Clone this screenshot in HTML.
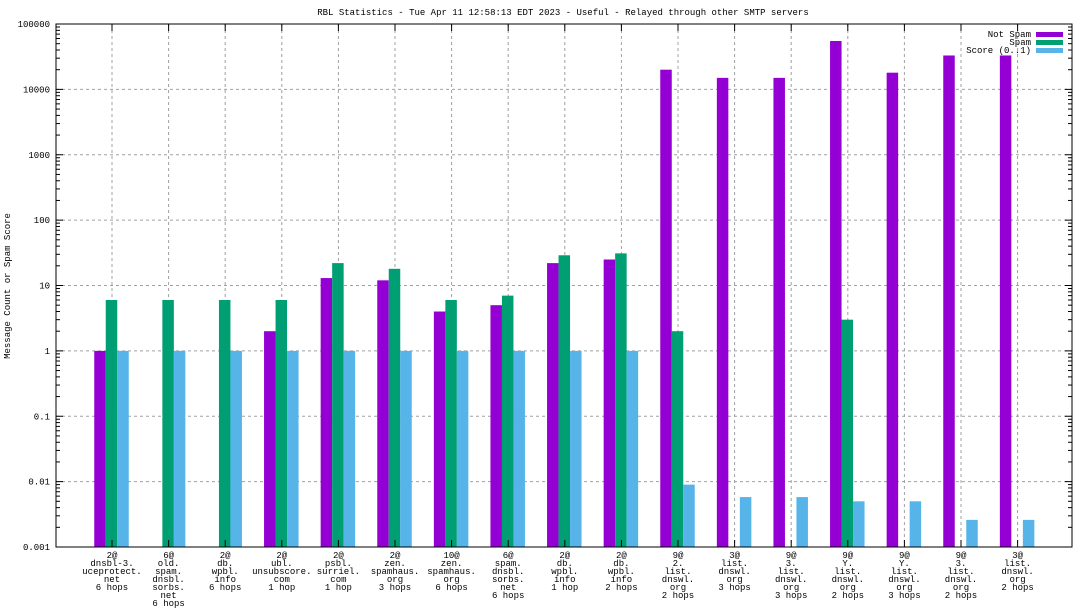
<!DOCTYPE html>
<html><head><meta charset="utf-8"><style>
html,body{margin:0;padding:0;background:#fff}
svg{display:block}
text{font-family:"Liberation Mono","DejaVu Sans Mono",monospace;font-size:9px;fill:#000}
</style></head><body>
<svg id="chart" width="1088" height="612" viewBox="0 0 1088 612" xmlns="http://www.w3.org/2000/svg">
<text x="563" y="15" text-anchor="middle">RBL Statistics - Tue Apr 11 12:58:13 EDT 2023 - Useful - Relayed through other SMTP servers</text>
<text transform="translate(10,286) rotate(-90)" text-anchor="middle">Message Count or Spam Score</text>
<g id="grid"></g><g id="bars"></g><g id="axes"></g><g id="legend"></g>
</svg>
<script>
const categories=[
["2@","dnsbl-3.","uceprotect.","net","6 hops"],
["6@","old.","spam.","dnsbl.","sorbs.","net","6 hops"],
["2@","db.","wpbl.","info","6 hops"],
["2@","ubl.","unsubscore.","com","1 hop"],
["2@","psbl.","surriel.","com","1 hop"],
["2@","zen.","spamhaus.","org","3 hops"],
["10@","zen.","spamhaus.","org","6 hops"],
["6@","spam.","dnsbl.","sorbs.","net","6 hops"],
["2@","db.","wpbl.","info","1 hop"],
["2@","db.","wpbl.","info","2 hops"],
["9@","2.","list.","dnswl.","org","2 hops"],
["3@","list.","dnswl.","org","3 hops"],
["9@","3.","list.","dnswl.","org","3 hops"],
["9@","Y.","list.","dnswl.","org","2 hops"],
["9@","Y.","list.","dnswl.","org","3 hops"],
["9@","3.","list.","dnswl.","org","2 hops"],
["3@","list.","dnswl.","org","2 hops"]];
const notSpam=[1,0,0,2,13,12,4,5,22,25,20000,15000,15000,55000,18000,33000,33000];
const spam=[6,6,6,6,22,18,6,7,29,31,2,0,0,3,0,0,0];
const score=[1,1,1,1,1,1,1,1,1,1,0.009,0.0058,0.0058,0.005,0.005,0.0026,0.0026];
const yTicks=[100000,10000,1000,100,10,1,0.1,0.01,0.001];
const yTickLabels=["100000","10000","1000","100","10","1","0.1","0.01","0.001"];
const seriesNames=["Not Spam","Spam","Score (0..1)"];
const colors=["#9400d3","#009e73","#56b4e9"];

const NS="http://www.w3.org/2000/svg";
const L=56,R=1072,T=24,B=547,yMin=0.001,yMax=100000;
const y=v=>B-(Math.log10(v)-Math.log10(yMin))/(Math.log10(yMax)-Math.log10(yMin))*(B-T);
const step=56.6;
const x=i=>112+i*step;
function mk(tag,attrs,parent){const e=document.createElementNS(NS,tag);for(const k in attrs)e.setAttribute(k,attrs[k]);parent.appendChild(e);return e;}
const grid=document.getElementById('grid'),bars=document.getElementById('bars'),axes=document.getElementById('axes'),leg=document.getElementById('legend');
// grid
yTicks.forEach((t,i)=>{
  const yy=y(t);
  if(i>0&&i<yTicks.length-1){const g=mk('line',{x1:L,x2:R,y1:yy,y2:yy,stroke:'#a0a0a0','stroke-dasharray':'3,3','stroke-width':1},grid);
  
  }
  const tl=mk('text',{x:50,y:yy+3,'text-anchor':'end'},axes);tl.textContent=yTickLabels[i];
  
  
  mk('line',{x1:L,x2:L+7,y1:yy,y2:yy,stroke:'#000'},axes);
  mk('line',{x1:R,x2:R-7,y1:yy,y2:yy,stroke:'#000'},axes);
  if(i<yTicks.length-1){for(let m=2;m<10;m++){const my=y(yTicks[i+1]*m);
    mk('line',{x1:L,x2:L+4,y1:my,y2:my,stroke:'#000'},axes);
    mk('line',{x1:R,x2:R-4,y1:my,y2:my,stroke:'#000'},axes);}}
});
categories.forEach((c,i)=>{
  const xx=x(i);
  const g=mk('line',{x1:xx,x2:xx,y1:T,y2:B,stroke:'#a0a0a0','stroke-dasharray':'3,3'},grid);
  
  
  mk('line',{x1:xx,x2:xx,y1:B,y2:B-7,stroke:'#000'},axes);
  mk('line',{x1:xx,x2:xx,y1:T,y2:T+7,stroke:'#000'},axes);
  const t=mk('text',{x:xx,y:558,'text-anchor':'middle'},axes);
  
  
  c.forEach((ln,k)=>{const ts=mk('tspan',{x:xx,y:558+k*8},t);ts.textContent=ln;});
});
const bw=11.5;
[notSpam,spam,score].forEach((arr,s)=>{
  arr.forEach((v,i)=>{
    if(!(v>0))return;
    const cx=x(i)+(s-1)*bw-0.5;
    const top=y(v);
    const r=mk('rect',{x:cx-bw/2,y:top,width:bw,height:B-top,fill:colors[s]},bars);
    
    
  });
});
const fr=mk('rect',{x:L,y:T,width:R-L,height:B-T,fill:'none',stroke:'#000','stroke-width':1},axes);


seriesNames.forEach((n,s)=>{
  const yy=34+s*8;
  const t=mk('text',{x:1031,y:yy+3,'text-anchor':'end'},leg);t.textContent=n;
  
  
  const r=mk('rect',{x:1036,y:yy-2,width:27,height:5,fill:colors[s]},leg);
  
  
});
</script>
</body></html>
